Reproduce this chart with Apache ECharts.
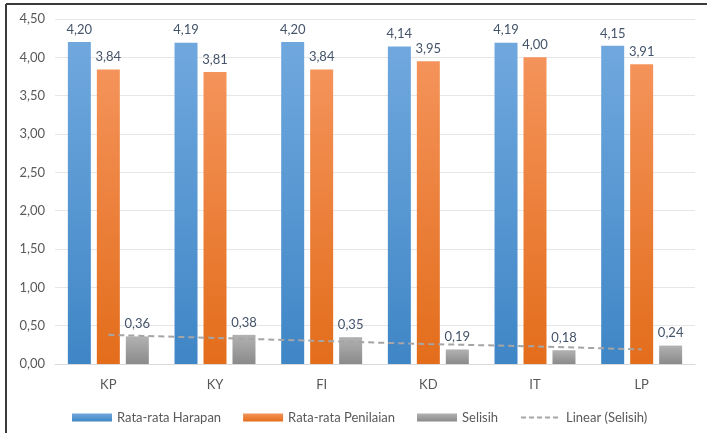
<!DOCTYPE html>
<html>
<head>
	<meta charset="utf-8" />
	<title></title>
	<script type="text/javascript" src="https://cdn.jsdelivr.net/npm/echarts@6/dist/echarts.min.js"></script>
</head>
<body style="margin:0;background:#fff;">
	<div id="main" style="width:707px;height:433px;"></div>
	<script>
		let categories = ['KP', 'KY', 'FI', 'KD', 'IT', 'LP'];
		let harapan = [4.20, 4.19, 4.20, 4.14, 4.19, 4.15];
		let penilaian = [3.84, 3.81, 3.84, 3.95, 4.00, 3.91];
		let selisih = [0.36, 0.38, 0.35, 0.19, 0.18, 0.24];
		// trend line
		let linearSelisih = [0.38, 0.34, 0.30, 0.26, 0.23, 0.19];
		let yTicks = [0, 0.5, 1, 1.5, 2, 2.5, 3, 3.5, 4, 4.5];

		function grad(top, bottom) {
			return new echarts.graphic.LinearGradient(0, 0, 0, 1, [
				{ offset: 0, color: top },
				{ offset: 1, color: bottom }
			]);
		}
		function fmt(v) {
			return v.toFixed(2).replace('.', ',');
		}

		let font = 'Lato';
		let myChart = echarts.init(document.getElementById('main'));
		let labelStyle = {
			show: true,
			position: 'top',
			distance: 6,
			color: '#44546A',
			fontSize: 13,
			fontFamily: font,
			formatter: function (p) { return fmt(p.value); }
		};
		let option = {
			animation: false,
			textStyle: { fontFamily: font },
			grid: { left: 55, right: 12, top: 19, bottom: 69 },
			graphic: [
				{ type: 'line', shape: { x1: 6, y1: 4, x2: 707, y2: 4 }, style: { stroke: '#3a3a3a', lineWidth: 2 } },
				{ type: 'line', shape: { x1: 6, y1: 4, x2: 6, y2: 433 }, style: { stroke: '#3a3a3a', lineWidth: 2 } }
			],
			legend: {
				top: 406,
				left: 67,
				width: 640,
				itemWidth: 40,
				itemHeight: 8,
				itemGap: 22,
				textStyle: { color: '#595959', fontSize: 13, fontFamily: font },
				data: [
					{ name: 'Rata-rata Harapan', icon: 'rect' },
					{ name: 'Rata-rata Penilaian', icon: 'rect' },
					{ name: 'Selisih', icon: 'rect' },
					{
						name: 'Linear (Selisih)',
						itemStyle: { opacity: 0 },
						lineStyle: { color: '#A5A5A5', width: 2, type: [5, 3], opacity: 1 }
					}
				]
			},
			xAxis: {
				type: 'category',
				data: categories,
				axisLine: { lineStyle: { color: '#D9D9D9' } },
				axisTick: { show: false },
				axisLabel: { color: '#595959', fontSize: 13, margin: 14 }
			},
			yAxis: {
				type: 'value',
				min: yTicks[0],
				max: yTicks[yTicks.length - 1],
				interval: 0.5,
				axisLine: { show: false },
				axisTick: { show: false },
				axisLabel: { color: '#595959', fontSize: 13, margin: 10, formatter: fmt },
				splitLine: { lineStyle: { color: '#E6E6E6' } }
			},
			series: [
				{
					name: 'Rata-rata Harapan',
					type: 'bar',
					data: harapan,
					barWidth: 23,
					barGap: '26%',
					itemStyle: { color: grad('#70A8DE', '#3F86C6') },
					label: labelStyle
				},
				{
					name: 'Rata-rata Penilaian',
					type: 'bar',
					data: penilaian,
					barWidth: 23,
					barGap: '26%',
					itemStyle: { color: grad('#F4935A', '#E36D1B') },
					label: labelStyle
				},
				{
					name: 'Selisih',
					type: 'bar',
					data: selisih,
					barWidth: 23,
					barGap: '26%',
					itemStyle: { color: grad('#B2B2B2', '#8A8A8A') },
					label: labelStyle
				},
				{
					name: 'Linear (Selisih)',
					type: 'line',
					data: linearSelisih,
					symbol: 'none',
					z: 5,
					lineStyle: { color: '#A5A5A5', width: 2, type: [6, 4] },
					itemStyle: { color: '#A5A5A5' }
				}
			]
		};
		myChart.setOption(option);
	</script>
</body>
</html>
